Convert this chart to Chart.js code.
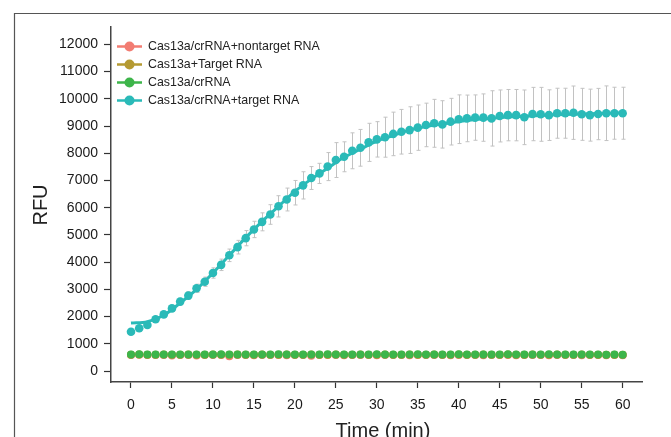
<!DOCTYPE html>
<html><head><meta charset="utf-8">
<script src="https://cdn.jsdelivr.net/npm/chart.js@4.4.1/dist/chart.umd.min.js"></script>
<style>html,body{margin:0;padding:0;background:#fff;}canvas{display:block;}</style>
</head><body>
<canvas id="c" width="671" height="437"></canvas>
<script>
// ---- data ----
const times = [0,1,2,3,4,5,6,7,8,9,10,11,12,13,14,15,16,17,18,19,20,21,22,23,24,25,26,27,28,29,30,31,32,33,34,35,36,37,38,39,40,41,42,43,44,45,46,47,48,49,50,51,52,53,54,55,56,57,58,59,60];
const xTicks = [0,5,10,15,20,25,30,35,40,45,50,55,60];
const yTicks = [0,1000,2000,3000,4000,5000,6000,7000,8000,9000,10000,11000,12000];
const seriesNames = ['Cas13a/crRNA+nontarget RNA','Cas13a+Target RNA','Cas13a/crRNA','Cas13a/crRNA+target RNA'];
const nontargetRNA = [590,595,590,585,590,570,590,585,570,590,585,590,540,585,590,580,590,585,590,580,590,585,560,590,585,590,580,590,585,590,580,590,585,590,580,585,590,585,590,580,590,585,590,580,590,585,590,580,590,585,590,580,590,585,590,580,590,585,580,585,580];
const cas13aTarget = [600,605,600,600,605,600,600,605,600,600,605,600,600,605,600,600,605,600,600,605,600,600,605,600,600,605,600,600,605,600,600,605,600,600,605,600,600,605,600,600,605,600,600,605,600,600,605,600,600,605,600,600,605,600,600,605,600,600,595,600,595];
const cas13aCrRNA = [610,615,610,605,610,610,605,610,610,605,610,615,610,605,610,610,605,610,615,610,610,605,610,610,615,610,610,605,610,610,615,610,610,605,610,620,610,610,605,610,615,610,610,605,610,610,615,610,605,610,610,615,610,605,610,610,605,610,600,605,600];
const targetRNA = [1440,1570,1690,1900,2080,2300,2550,2770,3040,3280,3600,3900,4250,4550,4880,5200,5480,5750,6050,6300,6550,6820,7090,7260,7510,7750,7870,8090,8200,8400,8510,8590,8710,8790,8850,8940,9040,9100,9060,9160,9250,9280,9310,9310,9280,9370,9400,9400,9320,9440,9430,9400,9470,9470,9490,9430,9400,9440,9470,9470,9470];
const targetSD = [60,70,80,90,100,110,120,140,150,170,190,210,230,250,280,300,330,360,390,420,450,500,420,370,515,640,550,660,675,700,650,735,800,820,857,833,800,880,870,857,894,857,833,870,1016,955,943,943,1004,980,990,930,918,918,980,955,955,943,1004,955,955];
const fitTimes = [0,2,4,6,8,10,12,14,16,18,20,22,24,26,28,30,32,34,36,38,40,42,44,46,48,50,52,54,56,58,60];
const fitRFU = [1760,1810,2050,2500,3000,3600,4250,4900,5500,6050,6600,7050,7450,7850,8150,8450,8650,8850,8980,9080,9170,9240,9290,9330,9360,9390,9410,9430,9450,9470,9490];

// ---- styles ----
const colors = ['#F27C72','#B59A32','#3DB54A','#2ABAB8'];
const FONT = "'Liberation Sans', Arial, sans-serif";

const pts = arr => times.map((t,i)=>({x:t,y:arr[i]}));

const errorBars = {
  id:'errorBars',
  beforeDatasetsDraw(chart){
    const {ctx, scales:{x,y}} = chart;
    ctx.save();
    ctx.strokeStyle = '#c2c2c2';
    ctx.lineWidth = 1;
    times.forEach((t,i)=>{
      const px = Math.round(x.getPixelForValue(t)) + 0.5;
      const top = y.getPixelForValue(targetRNA[i] + targetSD[i]);
      const bot = y.getPixelForValue(targetRNA[i] - targetSD[i]);
      ctx.beginPath();
      ctx.moveTo(px, top); ctx.lineTo(px, bot);
      ctx.moveTo(px-2, top); ctx.lineTo(px+2, top);
      ctx.moveTo(px-2, bot); ctx.lineTo(px+2, bot);
      ctx.stroke();
    });
    ctx.restore();
  }
};

const decor = {
  id:'decor',
  beforeDraw(chart){
    const ctx = chart.ctx;
    ctx.save();
    ctx.fillStyle = '#fff';
    ctx.fillRect(0,0,chart.width,chart.height);
    ctx.strokeStyle = '#555';
    ctx.lineWidth = 1.2;
    ctx.beginPath();
    ctx.moveTo(14.5, 437); ctx.lineTo(14.5, 13.5); ctx.lineTo(671, 13.5);
    ctx.stroke();
    ctx.restore();
  },
  afterDraw(chart){
    const ctx = chart.ctx;
    ctx.save();
    // legend
    seriesNames.forEach((name,i)=>{
      const cy = 46.5 + i*18;
      ctx.strokeStyle = colors[i];
      ctx.lineWidth = 2.5;
      ctx.beginPath(); ctx.moveTo(117, cy); ctx.lineTo(142, cy); ctx.stroke();
      ctx.fillStyle = colors[i];
      ctx.beginPath(); ctx.arc(129.5, cy, 5, 0, Math.PI*2); ctx.fill();
      ctx.fillStyle = '#222';
      ctx.font = '12.4px ' + FONT;
      ctx.textBaseline = 'middle';
      ctx.textAlign = 'left';
      ctx.fillText(name, 148, cy + 0.5);
    });
    // axis titles
    ctx.fillStyle = '#222';
    ctx.font = '20px ' + FONT;
    ctx.textAlign = 'center';
    ctx.textBaseline = 'alphabetic';
    ctx.fillText('Time (min)', 383, 436.5);
    ctx.translate(41, 205);
    ctx.rotate(-Math.PI/2);
    ctx.textBaseline = 'middle';
    ctx.fillText('RFU', 0, 0);
    ctx.restore();
  }
};

new Chart(document.getElementById('c'), {
  type:'line',
  data:{
    datasets:[
      {label:seriesNames[3], data:pts(targetRNA), showLine:false, pointRadius:4.3, pointBorderWidth:0, pointBackgroundColor:colors[3], backgroundColor:colors[3]},
      {label:'fit', data:fitTimes.map((t,i)=>({x:t,y:fitRFU[i]})), borderColor:colors[3], borderWidth:3, pointRadius:0, cubicInterpolationMode:'monotone'},
      {label:seriesNames[2], data:pts(cas13aCrRNA), showLine:false, pointRadius:4, pointBorderWidth:0, pointBackgroundColor:colors[2]},
      {label:seriesNames[1], data:pts(cas13aTarget), showLine:false, pointRadius:4, pointBorderWidth:0, pointBackgroundColor:colors[1]},
      {label:seriesNames[0], data:pts(nontargetRNA), showLine:false, pointRadius:4, pointBorderWidth:0, pointBackgroundColor:colors[0]}
    ]
  },
  options:{
    responsive:false,
    animation:false,
    layout:{padding:{left:0,top:27,right:29,bottom:0}},
    plugins:{legend:{display:false}, tooltip:{enabled:false}},
    scales:{
      x:{
        type:'linear', min:-2.44, max:62.36,
        afterBuildTicks:s=>{s.ticks = xTicks.map(v=>({value:v}));},
        afterFit:s=>{s.height = 55;},
        ticks:{font:{family:FONT,size:14}, color:'#1a1a1a', padding:9, maxRotation:0, autoSkip:false, callback:v=>String(v)},
        grid:{drawOnChartArea:false, drawTicks:true, tickLength:6, tickColor:'#333', tickWidth:1.2},
        border:{display:true, color:'#444', width:1.5}
      },
      y:{
        type:'linear', min:-404, max:12638,
        afterBuildTicks:s=>{s.ticks = yTicks.map(v=>({value:v}));},
        afterFit:s=>{s.width = 111;},
        ticks:{font:{family:FONT,size:14}, color:'#1a1a1a', padding:6, autoSkip:false, callback:v=>String(v)},
        grid:{drawOnChartArea:false, drawTicks:true, tickLength:7, tickColor:'#333', tickWidth:1.2},
        border:{display:true, color:'#444', width:1.5}
      }
    }
  },
  plugins:[decor, errorBars]
});
</script>
</body></html>
